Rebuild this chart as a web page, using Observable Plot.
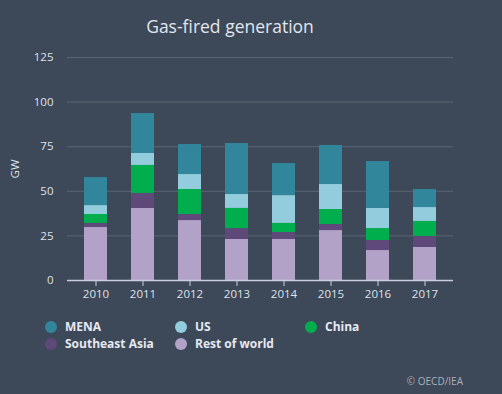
<!DOCTYPE html>
<html>
<head>
<meta charset="utf-8">
<script src="https://cdn.jsdelivr.net/npm/d3@7"></script>
<script src="https://cdn.jsdelivr.net/npm/@observablehq/plot@0.6"></script>
<style>
  html, body { margin: 0; padding: 0; background: #3d4858; }
  #wrap { position: relative; width: 502px; height: 394px; background: #3d4858; font-family: "Open Sans", sans-serif; overflow: hidden; }
  #title { position: absolute; left: 0; width: 460px; top: 14px; text-align: center; font-size: 17.5px; color: #e2e6ee; }
  #chart { position: absolute; left: 0; top: 0; }
  #legend { position: absolute; left: 45px; top: 318px; width: 420px; }
  .item { position: absolute; font-size: 12px; font-weight: bold; color: #e6e9f0; white-space: nowrap; line-height: 17px; }
  .dot { display: inline-block; width: 12px; height: 12px; border-radius: 50%; vertical-align: -2px; margin-right: 8px; }
  #caption { position: absolute; right: 39px; top: 374px; font-size: 10px; color: #a9b0bb; }
</style>
</head>
<body>
<div id="wrap">
  <div id="title">Gas-fired generation</div>
  <div id="chart"></div>
  <div id="legend"></div>
  <div id="caption">© OECD/IEA</div>
</div>
<script>
const years = ["2010", "2011", "2012", "2013", "2014", "2015", "2016", "2017"];
const seriesNames = ["Rest of world", "Southeast Asia", "China", "US", "MENA"];
const seriesColors = ["#b3a2c7", "#5f497a", "#00ae4e", "#93cddd", "#31869b"];
const restOfWorld = [29.7, 40.4, 33.6, 23.0, 23.0, 28.0, 16.8, 18.5];
const southeastAsia = [2.3, 8.4, 3.4, 6.1, 3.9, 3.4, 5.6, 6.2];
const china = [5.0, 15.7, 14.0, 11.3, 5.1, 8.4, 6.7, 8.4];
const us = [5.0, 6.7, 8.4, 7.8, 15.6, 14.0, 11.3, 7.8];
const mena = [15.7, 22.4, 16.8, 28.6, 18.0, 21.9, 26.3, 10.1];
const yTicks = [0, 25, 50, 75, 100, 125];
const legendOrder = ["MENA", "US", "China", "Southeast Asia", "Rest of world"];

const seriesValues = [restOfWorld, southeastAsia, china, us, mena];
const data = [];
years.forEach((yr, i) => {
  seriesNames.forEach((s, k) => data.push({ year: yr, series: s, value: seriesValues[k][i] }));
});

const plot = Plot.plot({
  width: 502,
  height: 310,
  marginTop: 57,
  marginBottom: 30,
  marginLeft: 67,
  marginRight: 49,
  style: { background: "transparent", color: "#dfe3ec", fontFamily: "Open Sans, sans-serif", fontSize: "11px" },
  x: { domain: years, paddingInner: 0.515, paddingOuter: 0.33, label: null },
  y: { domain: [0, 125], ticks: yTicks, label: "GW" },
  color: { domain: seriesNames, range: seriesColors },
  marks: [
    Plot.gridY(yTicks, { stroke: "#5b6573", strokeOpacity: 1 }),
    Plot.barY(data, { x: "year", y: "value", fill: "series", order: null }),
    Plot.ruleY([0], { stroke: "#c9cee0", strokeWidth: 1.5 }),
    Plot.axisX({ tickSize: 6, tickPadding: 3, stroke: "#c9cee0", color: "#dfe3ec", fontSize: 11.5 }),
    Plot.axisY(yTicks, { tickSize: 0, tickPadding: 14, label: "GW", labelAnchor: "center", labelArrow: "none", labelOffset: 57, color: "#dfe3ec", fontSize: 11.5 })
  ]
});
document.getElementById("chart").appendChild(plot);

const legend = document.getElementById("legend");
const positions = [[0, 0], [130, 0], [260, 0], [0, 17], [130, 17]];
legendOrder.forEach((name, i) => {
  const el = document.createElement("div");
  el.className = "item";
  el.style.left = positions[i][0] + "px";
  el.style.top = positions[i][1] + "px";
  const dot = document.createElement("span");
  dot.className = "dot";
  dot.style.background = seriesColors[seriesNames.indexOf(name)];
  el.appendChild(dot);
  el.appendChild(document.createTextNode(name));
  legend.appendChild(el);
});
</script>
</body>
</html>
